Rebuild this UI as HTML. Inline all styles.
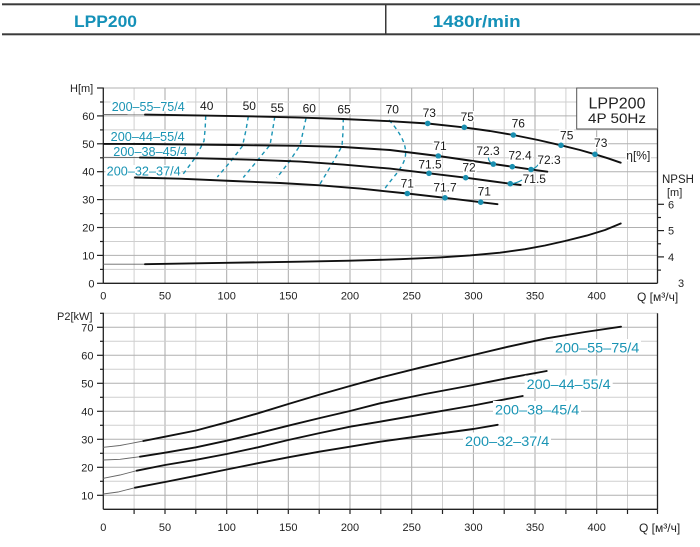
<!DOCTYPE html>
<html>
<head>
<meta charset="utf-8">
<style>
html,body{margin:0;padding:0;background:#fff;}
svg{display:block;font-family:"Liberation Sans",Arial,sans-serif;}
</style>
</head>
<body>
<svg width="700" height="547" viewBox="0 0 700 547" xmlns="http://www.w3.org/2000/svg">
<rect width="700" height="547" fill="#fff"/>

<!-- Header -->
<rect x="2" y="3.3" width="698" height="2" fill="#3a3a3a"/>
<rect x="2" y="33.3" width="698" height="2" fill="#3a3a3a"/>
<rect x="385" y="4" width="1.5" height="30" fill="#3a3a3a"/>
<text x="74" y="27" font-size="16.5" font-weight="bold" fill="#1591b8" textLength="63" lengthAdjust="spacingAndGlyphs">LPP200</text>
<text x="432.7" y="27" font-size="16.5" font-weight="bold" fill="#1591b8" textLength="88" lengthAdjust="spacingAndGlyphs">1480r/min</text>

<!-- ============ TOP CHART ============ -->
<g stroke-width="1" fill="none">
  <!-- vertical grid minor (25s) -->
  <g stroke="#d0d0d0">
    <line x1="134.1" y1="88" x2="134.1" y2="283.3"/>
    <line x1="195.8" y1="88" x2="195.8" y2="283.3"/>
    <line x1="257.5" y1="88" x2="257.5" y2="283.3"/>
    <line x1="319.2" y1="88" x2="319.2" y2="283.3"/>
    <line x1="380.8" y1="88" x2="380.8" y2="283.3"/>
    <line x1="442.5" y1="88" x2="442.5" y2="283.3"/>
    <line x1="504.2" y1="88" x2="504.2" y2="283.3"/>
    <line x1="565.9" y1="88" x2="565.9" y2="283.3"/>
    <line x1="627.5" y1="88" x2="627.5" y2="283.3"/>
  </g>
  <g stroke="#a8a8a8">
    <line x1="165" y1="88" x2="165" y2="283.3"/>
    <line x1="226.7" y1="88" x2="226.7" y2="283.3"/>
    <line x1="288.3" y1="88" x2="288.3" y2="283.3"/>
    <line x1="350" y1="88" x2="350" y2="283.3"/>
    <line x1="411.7" y1="88" x2="411.7" y2="283.3"/>
    <line x1="473.4" y1="88" x2="473.4" y2="283.3"/>
    <line x1="535" y1="88" x2="535" y2="283.3"/>
    <line x1="596.7" y1="88" x2="596.7" y2="283.3"/>
  </g>
  <!-- horizontal grid -->
  <g stroke="#cfcfcf">
    <line x1="103.3" y1="269.4" x2="657.5" y2="269.4"/>
    <line x1="103.3" y1="241.5" x2="657.5" y2="241.5"/>
    <line x1="103.3" y1="213.6" x2="657.5" y2="213.6"/>
    <line x1="103.3" y1="185.7" x2="657.5" y2="185.7"/>
    <line x1="103.3" y1="157.8" x2="657.5" y2="157.8"/>
    <line x1="103.3" y1="129.9" x2="657.5" y2="129.9"/>
    <line x1="103.3" y1="102" x2="657.5" y2="102"/>
  </g>
  <g stroke="#b0b0b0">
    <line x1="103.3" y1="255.4" x2="657.5" y2="255.4"/>
    <line x1="103.3" y1="227.5" x2="657.5" y2="227.5"/>
    <line x1="103.3" y1="199.6" x2="657.5" y2="199.6"/>
    <line x1="103.3" y1="171.7" x2="657.5" y2="171.7"/>
    <line x1="103.3" y1="143.8" x2="657.5" y2="143.8"/>
    <line x1="103.3" y1="115.9" x2="657.5" y2="115.9"/>
    <line x1="103.3" y1="88" x2="657.5" y2="88"/>
  </g>
  <!-- axes -->
  <g stroke="#222" stroke-width="1.3">
    <line x1="103.3" y1="87.5" x2="103.3" y2="283.3"/>
    <line x1="103.3" y1="283.3" x2="657.5" y2="283.3"/>
    <line x1="657.5" y1="88" x2="657.5" y2="283.3"/>
  </g>
  <!-- left ticks -->
  <g stroke="#222" stroke-width="1.2">
    <line x1="97" y1="283.3" x2="103.3" y2="283.3"/>
    <line x1="97" y1="255.4" x2="103.3" y2="255.4"/>
    <line x1="97" y1="227.5" x2="103.3" y2="227.5"/>
    <line x1="97" y1="199.6" x2="103.3" y2="199.6"/>
    <line x1="97" y1="171.7" x2="103.3" y2="171.7"/>
    <line x1="97" y1="143.8" x2="103.3" y2="143.8"/>
    <line x1="97" y1="115.9" x2="103.3" y2="115.9"/>
    <line x1="97" y1="88" x2="103.3" y2="88"/>
    <line x1="100" y1="269.4" x2="103.3" y2="269.4"/>
    <line x1="100" y1="241.5" x2="103.3" y2="241.5"/>
    <line x1="100" y1="213.6" x2="103.3" y2="213.6"/>
    <line x1="100" y1="185.7" x2="103.3" y2="185.7"/>
    <line x1="100" y1="157.8" x2="103.3" y2="157.8"/>
    <line x1="100" y1="129.9" x2="103.3" y2="129.9"/>
    <line x1="100" y1="102" x2="103.3" y2="102"/>
  </g>
  <!-- right NPSH ticks -->
  <g stroke="#222" stroke-width="1.2">
    <line x1="657.5" y1="204.3" x2="664" y2="204.3"/>
    <line x1="657.5" y1="230.6" x2="664" y2="230.6"/>
    <line x1="657.5" y1="256.9" x2="664" y2="256.9"/>
    <line x1="657.5" y1="217.5" x2="661" y2="217.5"/>
    <line x1="657.5" y1="243.8" x2="661" y2="243.8"/>
    <line x1="657.5" y1="270.1" x2="661" y2="270.1"/>
  </g>
</g>

<!-- top tick labels -->
<g font-size="11" fill="#222" text-anchor="middle">
  <text x="103.3" y="299.5">0</text>
  <text x="165" y="299.5">50</text>
  <text x="226.7" y="299.5">100</text>
  <text x="288.3" y="299.5">150</text>
  <text x="350" y="299.5">200</text>
  <text x="411.7" y="299.5">250</text>
  <text x="473.4" y="299.5">300</text>
  <text x="535" y="299.5">350</text>
  <text x="596.7" y="299.5">400</text>
</g>
<g font-size="11" fill="#222" text-anchor="end">
  <text x="94.5" y="287.3">0</text>
  <text x="94.5" y="259.4">10</text>
  <text x="94.5" y="231.5">20</text>
  <text x="94.5" y="203.6">30</text>
  <text x="94.5" y="175.7">40</text>
  <text x="94.5" y="147.8">50</text>
  <text x="94.5" y="119.9">60</text>
</g>
<g font-size="11" fill="#222">
  <text x="668" y="208.3">6</text>
  <text x="668" y="234.6">5</text>
  <text x="668" y="260.9">4</text>
  <text x="678" y="287">3</text>
  <text x="70" y="92">H[m]</text>
  <text x="662" y="183" font-size="11.5">NPSH</text>
  <text x="667" y="196">[m]</text>
  <text x="637" y="301" font-size="12">Q [м³/ч]</text>
</g>

<!-- Legend box -->
<rect x="576.7" y="88" width="80.8" height="41" fill="#fff" stroke="#555" stroke-width="1"/>
<text x="617" y="108.5" font-size="16" fill="#222" text-anchor="middle">LPP200</text>
<text x="588" y="123" font-size="13.5" fill="#222" textLength="58" lengthAdjust="spacingAndGlyphs">4P  50Hz</text>

<!-- dashed efficiency lines -->
<g fill="none" stroke="#1a94b4" stroke-width="1.4" stroke-dasharray="4,3.5">
  <polyline points="205.7,116 205.2,128 204,141 196,156.7 181.7,176"/>
  <polyline points="248.3,116.5 246,130 242.5,146 231,161 217.3,177"/>
  <polyline points="274.8,116.7 272.5,131 270,145 257,161 243.3,177.5"/>
  <polyline points="306,118.3 303,132 300,145.5 289,162 276.7,178"/>
  <polyline points="343.3,118.3 343,132 342,146 332,164 320,184"/>
  <path d="M389,120 C400,132 408,146 405,158 C402,170 390,180 384,190"/>
</g>

<!-- H curves thin extensions -->
<g fill="none" stroke="#666" stroke-width="0.9">
  <polyline points="103.3,114.4 145,114.6"/>
  <polyline points="103.3,157.3 140,157.6"/>
  <polyline points="103.3,264.2 145,264.2"/>
</g>
<!-- H curves -->
<g fill="none" stroke="#111" stroke-width="1.9" stroke-linejoin="round" stroke-linecap="round">
  <polyline points="145,114.6 190,115.3 248,116.3 300,117.6 343,119 390,121.2 427.7,123.5 464.3,127.4 490,131 513.3,135 538,140 561,145.3 580,150 595,154.3 608,158.3 620.7,162.7"/>
  <polyline points="104,143.9 145,144 233,145 300,145.8 343,147 390,150 438.3,156 466,160 493.3,164 512.3,166.7 531,169.4 547.3,171.7"/>
  <polyline points="140,157.6 200,158.3 260,160 300,161.6 343,164.6 390,168.6 429,173.3 465.7,177.7 490,181 510.3,183.7 520.7,185"/>
  <polyline points="135,177.5 180,178.7 233,181 280,183 320,185.3 360,188.6 407.3,193.5 445,197.8 480.7,202.2 497.5,204.2"/>
  <polyline points="145,264.2 226.7,262.8 300,261.7 350,260.7 400,259.2 440,257.4 470,255.4 500,252.7 525,249.2 545,245.5 565,241 586.7,235.6 605,230 620.7,223.5"/>
</g>

<!-- leader lines -->
<g fill="none" stroke="#1a94b4" stroke-width="1.2">
  <path d="M492.7,164.3 Q488,161 488.5,157.5"/>
  <path d="M530.7,169.7 Q537,168 540,162"/>
  <path d="M510.7,184 Q517,183 522,180"/>
</g>

<!-- dots -->
<g fill="#1a8fb0">
  <circle cx="427.7" cy="123.4" r="2.8"/>
  <circle cx="464.3" cy="127.3" r="2.8"/>
  <circle cx="513.3" cy="135" r="2.8"/>
  <circle cx="561" cy="145.3" r="2.8"/>
  <circle cx="595" cy="154.3" r="2.8"/>
  <circle cx="438.3" cy="156" r="2.8"/>
  <circle cx="493.3" cy="164.1" r="2.8"/>
  <circle cx="512.3" cy="166.7" r="2.8"/>
  <circle cx="531" cy="169.5" r="2.8"/>
  <circle cx="429" cy="173.3" r="2.8"/>
  <circle cx="465.7" cy="177.7" r="2.8"/>
  <circle cx="510.3" cy="183.7" r="2.8"/>
  <circle cx="407.3" cy="193.5" r="2.8"/>
  <circle cx="445" cy="197.8" r="2.8"/>
  <circle cx="480.7" cy="202.2" r="2.8"/>
</g>

<!-- efficiency labels -->
<g font-size="12" fill="#1a1a1a" text-anchor="middle" stroke="#fff" stroke-width="3" paint-order="stroke">
  <text x="206.7" y="110">40</text>
  <text x="249.3" y="110">50</text>
  <text x="277.3" y="112">55</text>
  <text x="309.3" y="112.3">60</text>
  <text x="344" y="113.3">65</text>
  <text x="392.3" y="113.6">70</text>
  <text x="429.3" y="117">73</text>
  <text x="467.3" y="121">75</text>
  <text x="518.3" y="127.6">76</text>
  <text x="566.7" y="139.3">75</text>
  <text x="600.7" y="147">73</text>
  <text x="638.3" y="159.3">η[%]</text>
  <text x="440" y="150">71</text>
  <text x="488" y="154.8">72.3</text>
  <text x="520" y="159.3">72.4</text>
  <text x="549" y="163.8">72.3</text>
  <text x="430" y="168.6">71.5</text>
  <text x="469" y="171.6">72</text>
  <text x="534.3" y="183">71.5</text>
  <text x="407.3" y="187.6">71</text>
  <text x="445" y="191.6">71.7</text>
  <text x="484.3" y="195.3">71</text>
</g>

<!-- series labels top -->
<g fill="#fff">
  <rect x="110.5" y="100" width="76" height="11.5"/>
  <rect x="109.5" y="130.5" width="76" height="11.5"/>
  <rect x="112" y="145.5" width="76" height="10.8"/>
  <rect x="105.5" y="165" width="76" height="11.5"/>
</g>
<g font-size="12.5" fill="#1a94b4">
  <text x="111.7" y="111" textLength="73" lengthAdjust="spacingAndGlyphs">200–55–75/4</text>
  <text x="110.7" y="141" textLength="74" lengthAdjust="spacingAndGlyphs">200–44–55/4</text>
  <text x="113.3" y="156" textLength="74" lengthAdjust="spacingAndGlyphs">200–38–45/4</text>
  <text x="106.7" y="175.5" textLength="74" lengthAdjust="spacingAndGlyphs">200–32–37/4</text>
</g>

<!-- ============ BOTTOM CHART ============ -->
<g stroke-width="1" fill="none">
  <g stroke="#d0d0d0">
    <line x1="134.1" y1="313.3" x2="134.1" y2="509.3"/>
    <line x1="195.8" y1="313.3" x2="195.8" y2="509.3"/>
    <line x1="257.5" y1="313.3" x2="257.5" y2="509.3"/>
    <line x1="319.2" y1="313.3" x2="319.2" y2="509.3"/>
    <line x1="380.8" y1="313.3" x2="380.8" y2="509.3"/>
    <line x1="442.5" y1="313.3" x2="442.5" y2="509.3"/>
    <line x1="504.2" y1="313.3" x2="504.2" y2="509.3"/>
    <line x1="565.9" y1="313.3" x2="565.9" y2="509.3"/>
    <line x1="627.5" y1="313.3" x2="627.5" y2="509.3"/>
  </g>
  <g stroke="#a8a8a8">
    <line x1="165" y1="313.3" x2="165" y2="509.3"/>
    <line x1="226.7" y1="313.3" x2="226.7" y2="509.3"/>
    <line x1="288.3" y1="313.3" x2="288.3" y2="509.3"/>
    <line x1="350" y1="313.3" x2="350" y2="509.3"/>
    <line x1="411.7" y1="313.3" x2="411.7" y2="509.3"/>
    <line x1="473.4" y1="313.3" x2="473.4" y2="509.3"/>
    <line x1="535" y1="313.3" x2="535" y2="509.3"/>
    <line x1="596.7" y1="313.3" x2="596.7" y2="509.3"/>
  </g>
  <g stroke="#cfcfcf">
    <line x1="103.3" y1="481.3" x2="657.5" y2="481.3"/>
    <line x1="103.3" y1="453.3" x2="657.5" y2="453.3"/>
    <line x1="103.3" y1="425.3" x2="657.5" y2="425.3"/>
    <line x1="103.3" y1="397.3" x2="657.5" y2="397.3"/>
    <line x1="103.3" y1="369.3" x2="657.5" y2="369.3"/>
    <line x1="103.3" y1="341.3" x2="657.5" y2="341.3"/>
    <line x1="103.3" y1="313.3" x2="657.5" y2="313.3"/>
  </g>
  <g stroke="#b0b0b0">
    <line x1="103.3" y1="495.3" x2="657.5" y2="495.3"/>
    <line x1="103.3" y1="467.3" x2="657.5" y2="467.3"/>
    <line x1="103.3" y1="439.3" x2="657.5" y2="439.3"/>
    <line x1="103.3" y1="411.3" x2="657.5" y2="411.3"/>
    <line x1="103.3" y1="383.3" x2="657.5" y2="383.3"/>
    <line x1="103.3" y1="355.3" x2="657.5" y2="355.3"/>
    <line x1="103.3" y1="327.3" x2="657.5" y2="327.3"/>
  </g>
  <g stroke="#222" stroke-width="1.3">
    <line x1="103.3" y1="312.8" x2="103.3" y2="509.3"/>
    <line x1="103.3" y1="509.3" x2="657.5" y2="509.3"/>
    <line x1="657.5" y1="313.3" x2="657.5" y2="509.3"/>
  </g>
  <g stroke="#222" stroke-width="1.2">
    <line x1="97" y1="495.3" x2="103.3" y2="495.3"/>
    <line x1="97" y1="467.3" x2="103.3" y2="467.3"/>
    <line x1="97" y1="439.3" x2="103.3" y2="439.3"/>
    <line x1="97" y1="411.3" x2="103.3" y2="411.3"/>
    <line x1="97" y1="383.3" x2="103.3" y2="383.3"/>
    <line x1="97" y1="355.3" x2="103.3" y2="355.3"/>
    <line x1="97" y1="327.3" x2="103.3" y2="327.3"/>
    <line x1="100" y1="481.3" x2="103.3" y2="481.3"/>
    <line x1="100" y1="453.3" x2="103.3" y2="453.3"/>
    <line x1="100" y1="425.3" x2="103.3" y2="425.3"/>
    <line x1="100" y1="397.3" x2="103.3" y2="397.3"/>
    <line x1="100" y1="369.3" x2="103.3" y2="369.3"/>
    <line x1="100" y1="341.3" x2="103.3" y2="341.3"/>
    <line x1="100" y1="313.3" x2="103.3" y2="313.3"/>
    <!-- bottom ticks -->
    <line x1="134.1" y1="509.3" x2="134.1" y2="514"/>
    <line x1="165" y1="509.3" x2="165" y2="514"/>
    <line x1="195.8" y1="509.3" x2="195.8" y2="514"/>
    <line x1="226.7" y1="509.3" x2="226.7" y2="514"/>
    <line x1="257.5" y1="509.3" x2="257.5" y2="514"/>
    <line x1="288.3" y1="509.3" x2="288.3" y2="514"/>
    <line x1="319.2" y1="509.3" x2="319.2" y2="514"/>
    <line x1="350" y1="509.3" x2="350" y2="514"/>
    <line x1="380.8" y1="509.3" x2="380.8" y2="514"/>
    <line x1="411.7" y1="509.3" x2="411.7" y2="514"/>
    <line x1="442.5" y1="509.3" x2="442.5" y2="514"/>
    <line x1="473.4" y1="509.3" x2="473.4" y2="514"/>
    <line x1="504.2" y1="509.3" x2="504.2" y2="514"/>
    <line x1="535" y1="509.3" x2="535" y2="514"/>
    <line x1="565.9" y1="509.3" x2="565.9" y2="514"/>
    <line x1="596.7" y1="509.3" x2="596.7" y2="514"/>
    <line x1="627.5" y1="509.3" x2="627.5" y2="514"/>
    <line x1="657.5" y1="509.3" x2="657.5" y2="514"/>
  </g>
</g>

<g font-size="11" fill="#222" text-anchor="middle">
  <text x="103.3" y="531">0</text>
  <text x="165" y="531">50</text>
  <text x="226.7" y="531">100</text>
  <text x="288.3" y="531">150</text>
  <text x="350" y="531">200</text>
  <text x="411.7" y="531">250</text>
  <text x="473.4" y="531">300</text>
  <text x="535" y="531">350</text>
  <text x="596.7" y="531">400</text>
</g>
<g font-size="11" fill="#222" text-anchor="end">
  <text x="93.5" y="499.3">10</text>
  <text x="93.5" y="471.3">20</text>
  <text x="93.5" y="443.3">30</text>
  <text x="93.5" y="415.3">40</text>
  <text x="93.5" y="387.3">50</text>
  <text x="93.5" y="359.3">60</text>
  <text x="93.5" y="331.3">70</text>
</g>
<text x="57" y="320" font-size="11" fill="#222">P2[kW]</text>
<text x="639" y="532" font-size="12" fill="#222">Q [м³/ч]</text>

<!-- power curves thin -->
<g fill="none" stroke="#666" stroke-width="0.9">
  <polyline points="103.3,447.3 120,445.5 143.3,441"/>
  <polyline points="103.3,460 120,459.3 140,456.7"/>
  <polyline points="103.3,478.3 120,475 136.7,470.7"/>
  <polyline points="103.3,494 118,492 135,487.7"/>
</g>
<g fill="none" stroke="#111" stroke-width="1.9" stroke-linejoin="round" stroke-linecap="round">
  <polyline points="143.3,441 165,436.7 196,430.5 226.7,422.3 258,413.3 288.3,404 320,394.5 350,386 380,377.7 420,367.7 473.3,355 510,346.3 546.7,338.3 585,332 621,326.7"/>
  <polyline points="140,456.7 165,452.7 196,447.3 226.7,440.7 258,433.3 288.3,425.7 320,418 350,411 380,403.3 425,394 473.3,385 510,377.7 546.7,371"/>
  <polyline points="136.7,470.7 165,465 196,459.8 226.7,454 258,447.3 288.3,440 320,433 350,426.7 380,421.7 425,413.8 473.3,405.5 500,400.3 522.7,396"/>
  <polyline points="135,487.7 165,482 196,475.8 226.7,469.5 258,463.2 288.3,457.3 320,451.6 350,446.7 380,441.7 425,435.5 473.3,429 497.7,424.8"/>
</g>

<g fill="#fff">
  <rect x="553" y="339" width="88" height="13"/>
  <rect x="524.7" y="375.5" width="88" height="13"/>
  <rect x="493" y="401" width="88" height="13"/>
  <rect x="463" y="432.5" width="88" height="13"/>
</g>
<g font-size="14" fill="#1a94b4">
  <text x="555" y="352.3" textLength="84.3" lengthAdjust="spacingAndGlyphs">200–55–75/4</text>
  <text x="526.7" y="389" textLength="84" lengthAdjust="spacingAndGlyphs">200–44–55/4</text>
  <text x="495" y="414.3" textLength="84.3" lengthAdjust="spacingAndGlyphs">200–38–45/4</text>
  <text x="465" y="446" textLength="84.3" lengthAdjust="spacingAndGlyphs">200–32–37/4</text>
</g>
</svg>
</body>
</html>
